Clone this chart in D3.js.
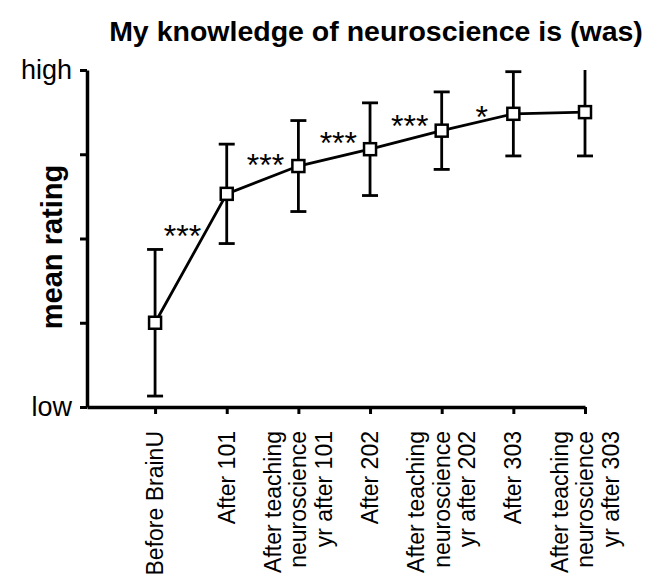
<!DOCTYPE html>
<html>
<head>
<meta charset="utf-8">
<script src="https://cdn.jsdelivr.net/npm/d3@7"></script>
<style>
  html, body { margin: 0; padding: 0; background: #fff; }
  svg { display: block; font-family: "Liberation Sans", Arial, Helvetica, sans-serif; }
</style>
</head>
<body>
<svg id="chart" width="656" height="581"></svg>
<script>
// ---- data ----
const categories = [
  ["Before BrainU"],
  ["After 101"],
  ["After teaching", "neuroscience", "yr after 101"],
  ["After 202"],
  ["After teaching", "neuroscience", "yr after 202"],
  ["After 303"],
  ["After teaching", "neuroscience", "yr after 303"]
];
const meanRating = [2.00, 3.53, 3.86, 4.06, 4.28, 4.48, 4.50];
const errorSD    = [0.87, 0.59, 0.54, 0.55, 0.46, 0.50, 0.52];
const significance = ["***", "***", "***", "***", "*", ""];
const yTickValues = [1, 2, 3, 4, 5];
const yTickLabels = ["low", "", "", "", "high"];
const titleText = "My knowledge of neuroscience is (was)";
const yLabelText = "mean rating";

// ---- layout ----
const svg = d3.select("#chart");
const xLeft = 87, xRight = 585, yTop = 70, yBottom = 407;

const x = d3.scaleLinear().domain([-0.95, categories.length - 1]).range([xLeft, xRight]);
const y = d3.scaleLinear().domain([1, 5]).range([yBottom, yTop]);

// title
svg.append("text")
  .attr("x", 376).attr("y", 41)
  .attr("text-anchor", "middle")
  .attr("font-size", 28.5).attr("font-weight", "bold")
  .text(titleText);

// y axis
const yAxis = d3.axisLeft(y)
  .tickValues(yTickValues)
  .tickFormat((d, i) => yTickLabels[i])
  .tickSize(7).tickSizeOuter(0).tickPadding(8);
const gy = svg.append("g").attr("transform", `translate(${xLeft},0)`).call(yAxis);
gy.select(".domain").attr("stroke", "#000").attr("stroke-width", 3.5);
gy.selectAll(".tick line").attr("stroke", "#000").attr("stroke-width", 3);
gy.selectAll(".tick text").attr("font-size", 27).attr("fill", "#000")
  .attr("font-family", "'Liberation Sans', Arial, sans-serif");

// x axis
const xAxis = d3.axisBottom(x)
  .tickValues(d3.range(categories.length))
  .tickFormat("")
  .tickSize(7).tickSizeOuter(0);
const gx = svg.append("g").attr("transform", `translate(0,${yBottom})`).call(xAxis);
gx.select(".domain").attr("stroke", "#000").attr("stroke-width", 3.5);
gx.selectAll(".tick line").attr("stroke", "#000").attr("stroke-width", 3);

// x category labels (rotated, one text element per line, top-aligned)
const lineGap = 25.5;
categories.forEach((lines, i) => {
  lines.forEach((ln, k) => {
    const off = (k - (lines.length - 1) / 2) * lineGap;
    svg.append("text")
      .attr("transform", `translate(${x(i) + off},${yBottom + 24}) rotate(-90)`)
      .attr("text-anchor", "end")
      .attr("dy", "0.35em")
      .attr("font-size", 23)
      .text(ln);
  });
});

// y label
svg.append("text")
  .attr("transform", `translate(62,247) rotate(-90)`)
  .attr("text-anchor", "middle")
  .attr("font-size", 29).attr("font-weight", "bold")
  .text(yLabelText);

// error bars
const capW = 8;
const gErr = svg.append("g").attr("stroke", "#000").attr("stroke-width", 2.8).attr("fill", "none");
meanRating.forEach((m, i) => {
  const hi = m + errorSD[i], lo = m - errorSD[i];
  const hiC = Math.min(hi, 5), loC = Math.max(lo, 1);
  gErr.append("line").attr("x1", x(i)).attr("x2", x(i)).attr("y1", y(hiC)).attr("y2", y(loC));
  if (hi <= 5) gErr.append("line").attr("x1", x(i) - capW).attr("x2", x(i) + capW).attr("y1", y(hi)).attr("y2", y(hi));
  if (lo >= 1) gErr.append("line").attr("x1", x(i) - capW).attr("x2", x(i) + capW).attr("y1", y(lo)).attr("y2", y(lo));
});

// line
const line = d3.line().x((d, i) => x(i)).y(d => y(d));
svg.append("path").datum(meanRating)
  .attr("d", line)
  .attr("fill", "none").attr("stroke", "#000").attr("stroke-width", 2.8);

// markers
const ms = 12;
svg.append("g").selectAll("rect").data(meanRating).join("rect")
  .attr("x", (d, i) => x(i) - ms / 2)
  .attr("y", d => y(d) - ms / 2)
  .attr("width", ms).attr("height", ms)
  .attr("fill", "#fff").attr("stroke", "#000").attr("stroke-width", 2.5);

// significance stars, placed above each segment
significance.forEach((s, i) => {
  if (!s) return;
  const x0 = x(i), x1 = x(i + 1), y0 = y(meanRating[i]), y1 = y(meanRating[i + 1]);
  const slope = (y0 - y1) / (x1 - x0);
  const cx = (x0 + x1) / 2 + 6 - 8 * slope;
  const cy = (y0 + y1) / 2 - 20 - 5 * slope + (s.length === 1 ? 9 : 0);
  svg.append("text")
    .attr("x", cx).attr("y", cy + 18)
    .attr("text-anchor", "middle")
    .attr("font-size", 32)
    .text(s);
});
</script>
</body>
</html>
